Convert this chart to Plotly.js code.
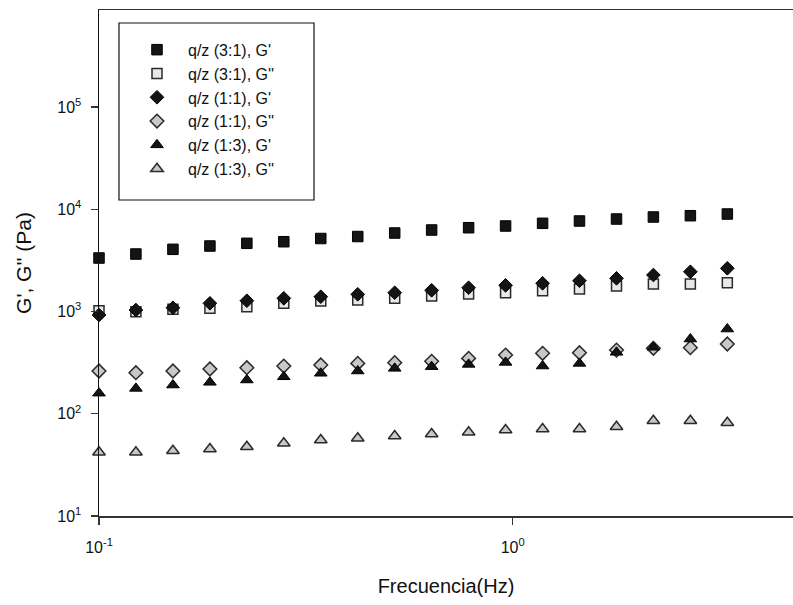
<!DOCTYPE html>
<html>
<head>
<meta charset="utf-8">
<script src="https://cdn.plot.ly/plotly-3.0.1.min.js"></script>
<style>
  html, body { margin: 0; padding: 0; background: #ffffff; }
  #chart { width: 793px; height: 605px; }
</style>
</head>
<body>
<div id="chart"></div>
<script>
// Frequency (Hz)
var frecuencia = [0.100, 0.1228, 0.1509, 0.1854, 0.2277, 0.2797, 0.3436, 0.4221, 0.5185,
                  0.6369, 0.7824, 0.9611, 1.181, 1.450, 1.782, 2.188, 2.688, 3.302];

// q/z (3:1)
var g1_31 = [3337, 3650, 4058, 4372, 4645, 4815, 5176, 5413, 5858,
             6268, 6600, 6859, 7290, 7677, 8029, 8400, 8650, 8985];
var g2_31 = [1018, 996, 1051, 1075, 1114, 1203, 1267, 1296, 1346,
             1418, 1484, 1527, 1597, 1660, 1776, 1858, 1858, 1913];

// q/z (1:1)
var g1_11 = [924, 1034, 1089, 1203, 1275, 1346, 1395, 1473, 1527,
             1612, 1709, 1803, 1887, 2000, 2111, 2275, 2449, 2646];
var g2_11 = [262, 252, 262, 274, 282, 293, 300, 311, 316,
             326, 348, 375, 390, 395, 420, 437, 443, 481];

// q/z (1:3)
var g1_13 = [159, 177, 191, 203, 214, 230, 249, 262, 278,
             289, 304, 318, 293, 311, 399, 447, 538, 674];
var g2_13 = [42.0, 42.0, 43.5, 45.2, 47.6, 51.4, 55.4, 57.5, 60.6,
             63.4, 65.9, 69.4, 71.0, 71.0, 74.7, 85.5, 85.5, 81.7];

var seriesNames = ["q/z (3:1), G'", "q/z (3:1), G''", "q/z (1:1), G'",
                   "q/z (1:1), G''", "q/z (1:3), G'", "q/z (1:3), G''"];

var yTickVals = [10, 100, 1000, 10000, 100000];
var yTickText = ['10<sup>1</sup>', '10<sup>2</sup>', '10<sup>3</sup>', '10<sup>4</sup>', '10<sup>5</sup>'];
var xTickVals = [0.1, 1];
var xTickText = ['10<sup>-1</sup>', '10<sup>0</sup>'];

var seriesData = [g1_31, g2_31, g1_11, g2_11, g1_13, g2_13];
var styles = [
  {symbol: 'square', size: 10.5, color: '#141414', line: '#000000', lw: 1},
  {symbol: 'square', size: 10, color: '#e8e8e8', line: '#2a2a2a', lw: 1.5},
  {symbol: 'diamond', size: 10.5, color: '#141414', line: '#000000', lw: 1},
  {symbol: 'diamond', size: 10.5, color: '#c8c8c8', line: '#2a2a2a', lw: 1.5},
  {symbol: 'triangle-up', size: 11, color: '#141414', line: '#000000', lw: 1},
  {symbol: 'triangle-up', size: 11, color: '#c8c8c8', line: '#2a2a2a', lw: 1.5}
];

var traces = seriesData.map(function (ys, i) {
  var s = styles[i];
  return {
    type: 'scatter',
    mode: 'markers',
    x: frecuencia,
    y: ys,
    name: seriesNames[i],
    cliponaxis: false,
    marker: {symbol: s.symbol, size: s.size, color: s.color,
             line: {color: s.line, width: s.lw}}
  };
});

var fontFam = 'Arial, "Liberation Sans", Helvetica, sans-serif';

var layout = {
  width: 793,
  height: 605,
  margin: {l: 99, r: 0, t: 10, b: 89, pad: 0},
  paper_bgcolor: '#ffffff',
  plot_bgcolor: '#ffffff',
  font: {family: fontFam, color: '#111111', size: 16},
  showlegend: true,
  legend: {
    x: 0.0389, xanchor: 'left',
    y: 0.955, yanchor: 'top',
    bgcolor: 'rgba(0,0,0,0)',
    borderwidth: 0,
    itemwidth: 52,
    font: {family: fontFam, size: 16, color: '#111111'},
    traceorder: 'normal'
  },
  xaxis: {
    type: 'log',
    range: [-1, 0.6775],
    tickvals: xTickVals,
    ticktext: xTickText,
    ticks: 'outside',
    ticklen: 7,
    tickwidth: 1.2,
    tickcolor: '#333333',
    showline: true,
    linecolor: '#333333',
    linewidth: 1.5,
    mirror: true,
    showgrid: false,
    zeroline: false,
    tickfont: {family: fontFam, size: 16, color: '#111111'},
    ticklabelstandoff: 9,
    title: {text: 'Frecuencia(Hz)', font: {family: fontFam, size: 20, color: '#111111'}, standoff: 24},
    automargin: false
  },
  yaxis: {
    type: 'log',
    range: [1, 5.949],
    tickvals: yTickVals,
    ticktext: yTickText,
    ticks: 'outside',
    ticklen: 7,
    tickwidth: 1.2,
    tickcolor: '#333333',
    showline: true,
    linecolor: '#111111',
    linewidth: 1.5,
    mirror: false,
    showgrid: false,
    zeroline: false,
    tickfont: {family: fontFam, size: 16, color: '#111111'},
    ticklabelstandoff: 6,
    title: {text: "G', G'' (Pa)", font: {family: fontFam, size: 21, color: '#111111'}, standoff: 20},
    automargin: false
  },
  shapes: [{
    type: 'rect', xref: 'paper', yref: 'paper',
    x0: 0.0288, x1: 0.3098, y0: 0.6245, y1: 0.9743,
    line: {color: '#111111', width: 1.2},
    fillcolor: 'rgba(0,0,0,0)',
    layer: 'below'
  }]
};

Plotly.newPlot('chart', traces, layout, {staticPlot: true, displayModeBar: false});
</script>
</body>
</html>
